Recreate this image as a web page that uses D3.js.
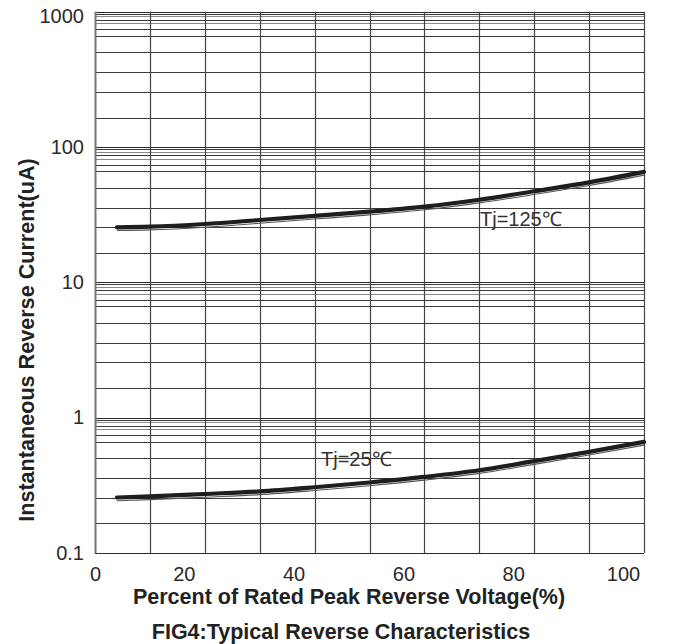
<!DOCTYPE html>
<html>
<head>
<meta charset="utf-8">
<script src="https://cdn.jsdelivr.net/npm/d3@7"></script>
<style>
  html, body { margin: 0; padding: 0; background: #fff; }
  svg { display: block; font-family: "Liberation Sans", Arial, Helvetica, sans-serif; }
</style>
</head>
<body>
<svg id="chart" width="680" height="644"></svg>
<script>
// ---- data ----
const voltagePct = [4, 10, 20, 30, 40, 50, 60, 70, 80, 90, 100];
const current125 = [25.5, 25.8, 27.0, 28.9, 31.0, 33.3, 36.3, 40.8, 47.1, 54.8, 65.5];
const current25  = [0.257, 0.262, 0.273, 0.285, 0.306, 0.332, 0.365, 0.409, 0.477, 0.559, 0.662];
const seriesLabels = ["Tj=125\u2103", "Tj=25\u2103"];
const xTickLabels = [0, 20, 40, 60, 80, 100];
const xGridTicks = [0, 10, 20, 30, 40, 50, 60, 70, 80, 90, 100];
const yTickValues = [0.1, 1, 10, 100, 1000];
const yTickLabels = ["0.1", "1", "10", "100", "1000"];
// positions of the printed grid lines inside each decade (fraction of decade)
const decadeGridFractions = [0.218, 0.41, 0.553, 0.70, 0.822, 0.87, 0.915, 0.94, 0.965, 0.985];
const xTitle = "Percent of Rated Peak Reverse Voltage(%)";
const yTitle = "Instantaneous Reverse Current(uA)";
const figTitle = "FIG4:Typical Reverse Characteristics";

// ---- layout ----
const svg = d3.select("#chart");
const plotL = 95, plotR = 644, plotT = 11.7, plotB = 553;
const FONT = "'Liberation Sans', Arial, Helvetica, sans-serif";

const x = d3.scaleLinear().domain([0, 100]).range([plotL, plotR]);
const y = d3.scaleLog().domain([0.1, 1000]).range([plotB, plotT]);

// minor grid values
const minorVals = [];
for (let d = -1; d < 3; d++) {
  decadeGridFractions.forEach(f => minorVals.push(Math.pow(10, d + f)));
}

const grid = svg.append("g");
// horizontal grid lines
grid.selectAll("line.minor").data(minorVals).join("line")
  .attr("class", "minor")
  .attr("x1", plotL).attr("x2", plotR)
  .attr("y1", d => Math.round(y(d)) + 0.5).attr("y2", d => Math.round(y(d)) + 0.5)
  .attr("stroke", (d, i) => (i % 10) >= 5 && (i % 2 === 0) ? "#8a8a8a" : "#3a3a3a")
  .attr("stroke-width", 1);
grid.selectAll("line.major").data(yTickValues).join("line")
  .attr("class", "major")
  .attr("x1", plotL).attr("x2", plotR)
  .attr("y1", d => Math.round(y(d)) + 0.5).attr("y2", d => Math.round(y(d)) + 0.5)
  .attr("stroke", "#2a2a2a").attr("stroke-width", 1.2);
// vertical grid lines
grid.selectAll("line.v").data(xGridTicks).join("line")
  .attr("class", "v")
  .attr("x1", d => Math.round(x(d)) + 0.5).attr("x2", d => Math.round(x(d)) + 0.5)
  .attr("y1", plotT).attr("y2", plotB)
  .attr("stroke", (d, i) => (i === 0 ? "#777" : "#444"))
  .attr("stroke-width", (d, i) => (i === 0 ? 2 : 1.2));

// ---- axes (text only) ----
const yAxis = d3.axisLeft(y).tickValues(yTickValues)
  .tickFormat((d, i) => yTickLabels[i]).tickSize(0).tickPadding(11);
const yAxisG = svg.append("g").attr("transform", `translate(${plotL},0)`).call(yAxis);
yAxisG.select(".domain").remove();
yAxisG.selectAll("text")
  .attr("font-size", 20).attr("fill", "#2a2a2a")
  .attr("font-family", FONT)
  .attr("dy", d => d === 1000 ? "0.55em" : "0.3em");

const xAxis = d3.axisBottom(x).tickValues(xTickLabels).tickSize(0).tickPadding(0);
const xAxisG = svg.append("g").attr("transform", `translate(0,${plotB})`).call(xAxis);
xAxisG.select(".domain").remove();
xAxisG.selectAll("text")
  .attr("font-size", 20).attr("fill", "#2a2a2a")
  .attr("font-family", FONT)
  .attr("y", 14)
  .attr("dx", d => d === 0 ? 0 : -21);

// ---- curves ----
const line = d3.line().x(d => x(d[0])).y(d => y(d[1])).curve(d3.curveMonotoneX);
const seriesData = [
  voltagePct.map((v, i) => [v, current125[i]]),
  voltagePct.map((v, i) => [v, current25[i]])
];
const curves = svg.append("g");
seriesData.forEach(s => {
  curves.append("path").attr("d", line(s))
    .attr("transform", "translate(0,3.2)")
    .attr("fill", "none").attr("stroke", "#555").attr("stroke-width", 1.1);
  curves.append("path").attr("d", line(s))
    .attr("fill", "none").attr("stroke", "#1e1e1e").attr("stroke-width", 4.2)
    .attr("stroke-linecap", "round");
});

// series labels
svg.append("text").attr("x", 480).attr("y", 226)
  .attr("font-family", FONT)
  .attr("font-size", 20).attr("fill", "#333").text(seriesLabels[0]);
svg.append("text").attr("x", 321).attr("y", 466)
  .attr("font-family", FONT)
  .attr("font-size", 20).attr("fill", "#333").text(seriesLabels[1]);

// ---- titles ----
svg.append("text").attr("x", 349).attr("y", 604)
  .attr("text-anchor", "middle").attr("font-weight", "bold")
  .attr("font-family", FONT)
  .attr("font-size", 21.5).attr("fill", "#222").text(xTitle);
svg.append("text").attr("x", 341).attr("y", 639)
  .attr("text-anchor", "middle").attr("font-weight", "bold")
  .attr("font-family", FONT)
  .attr("font-size", 21.5).attr("fill", "#222").text(figTitle);
svg.append("text")
  .attr("transform", "translate(34,340) rotate(-90)")
  .attr("text-anchor", "middle").attr("font-weight", "bold")
  .attr("font-family", FONT)
  .attr("font-size", 21.6).attr("fill", "#222").text(yTitle);
</script>
</body>
</html>
